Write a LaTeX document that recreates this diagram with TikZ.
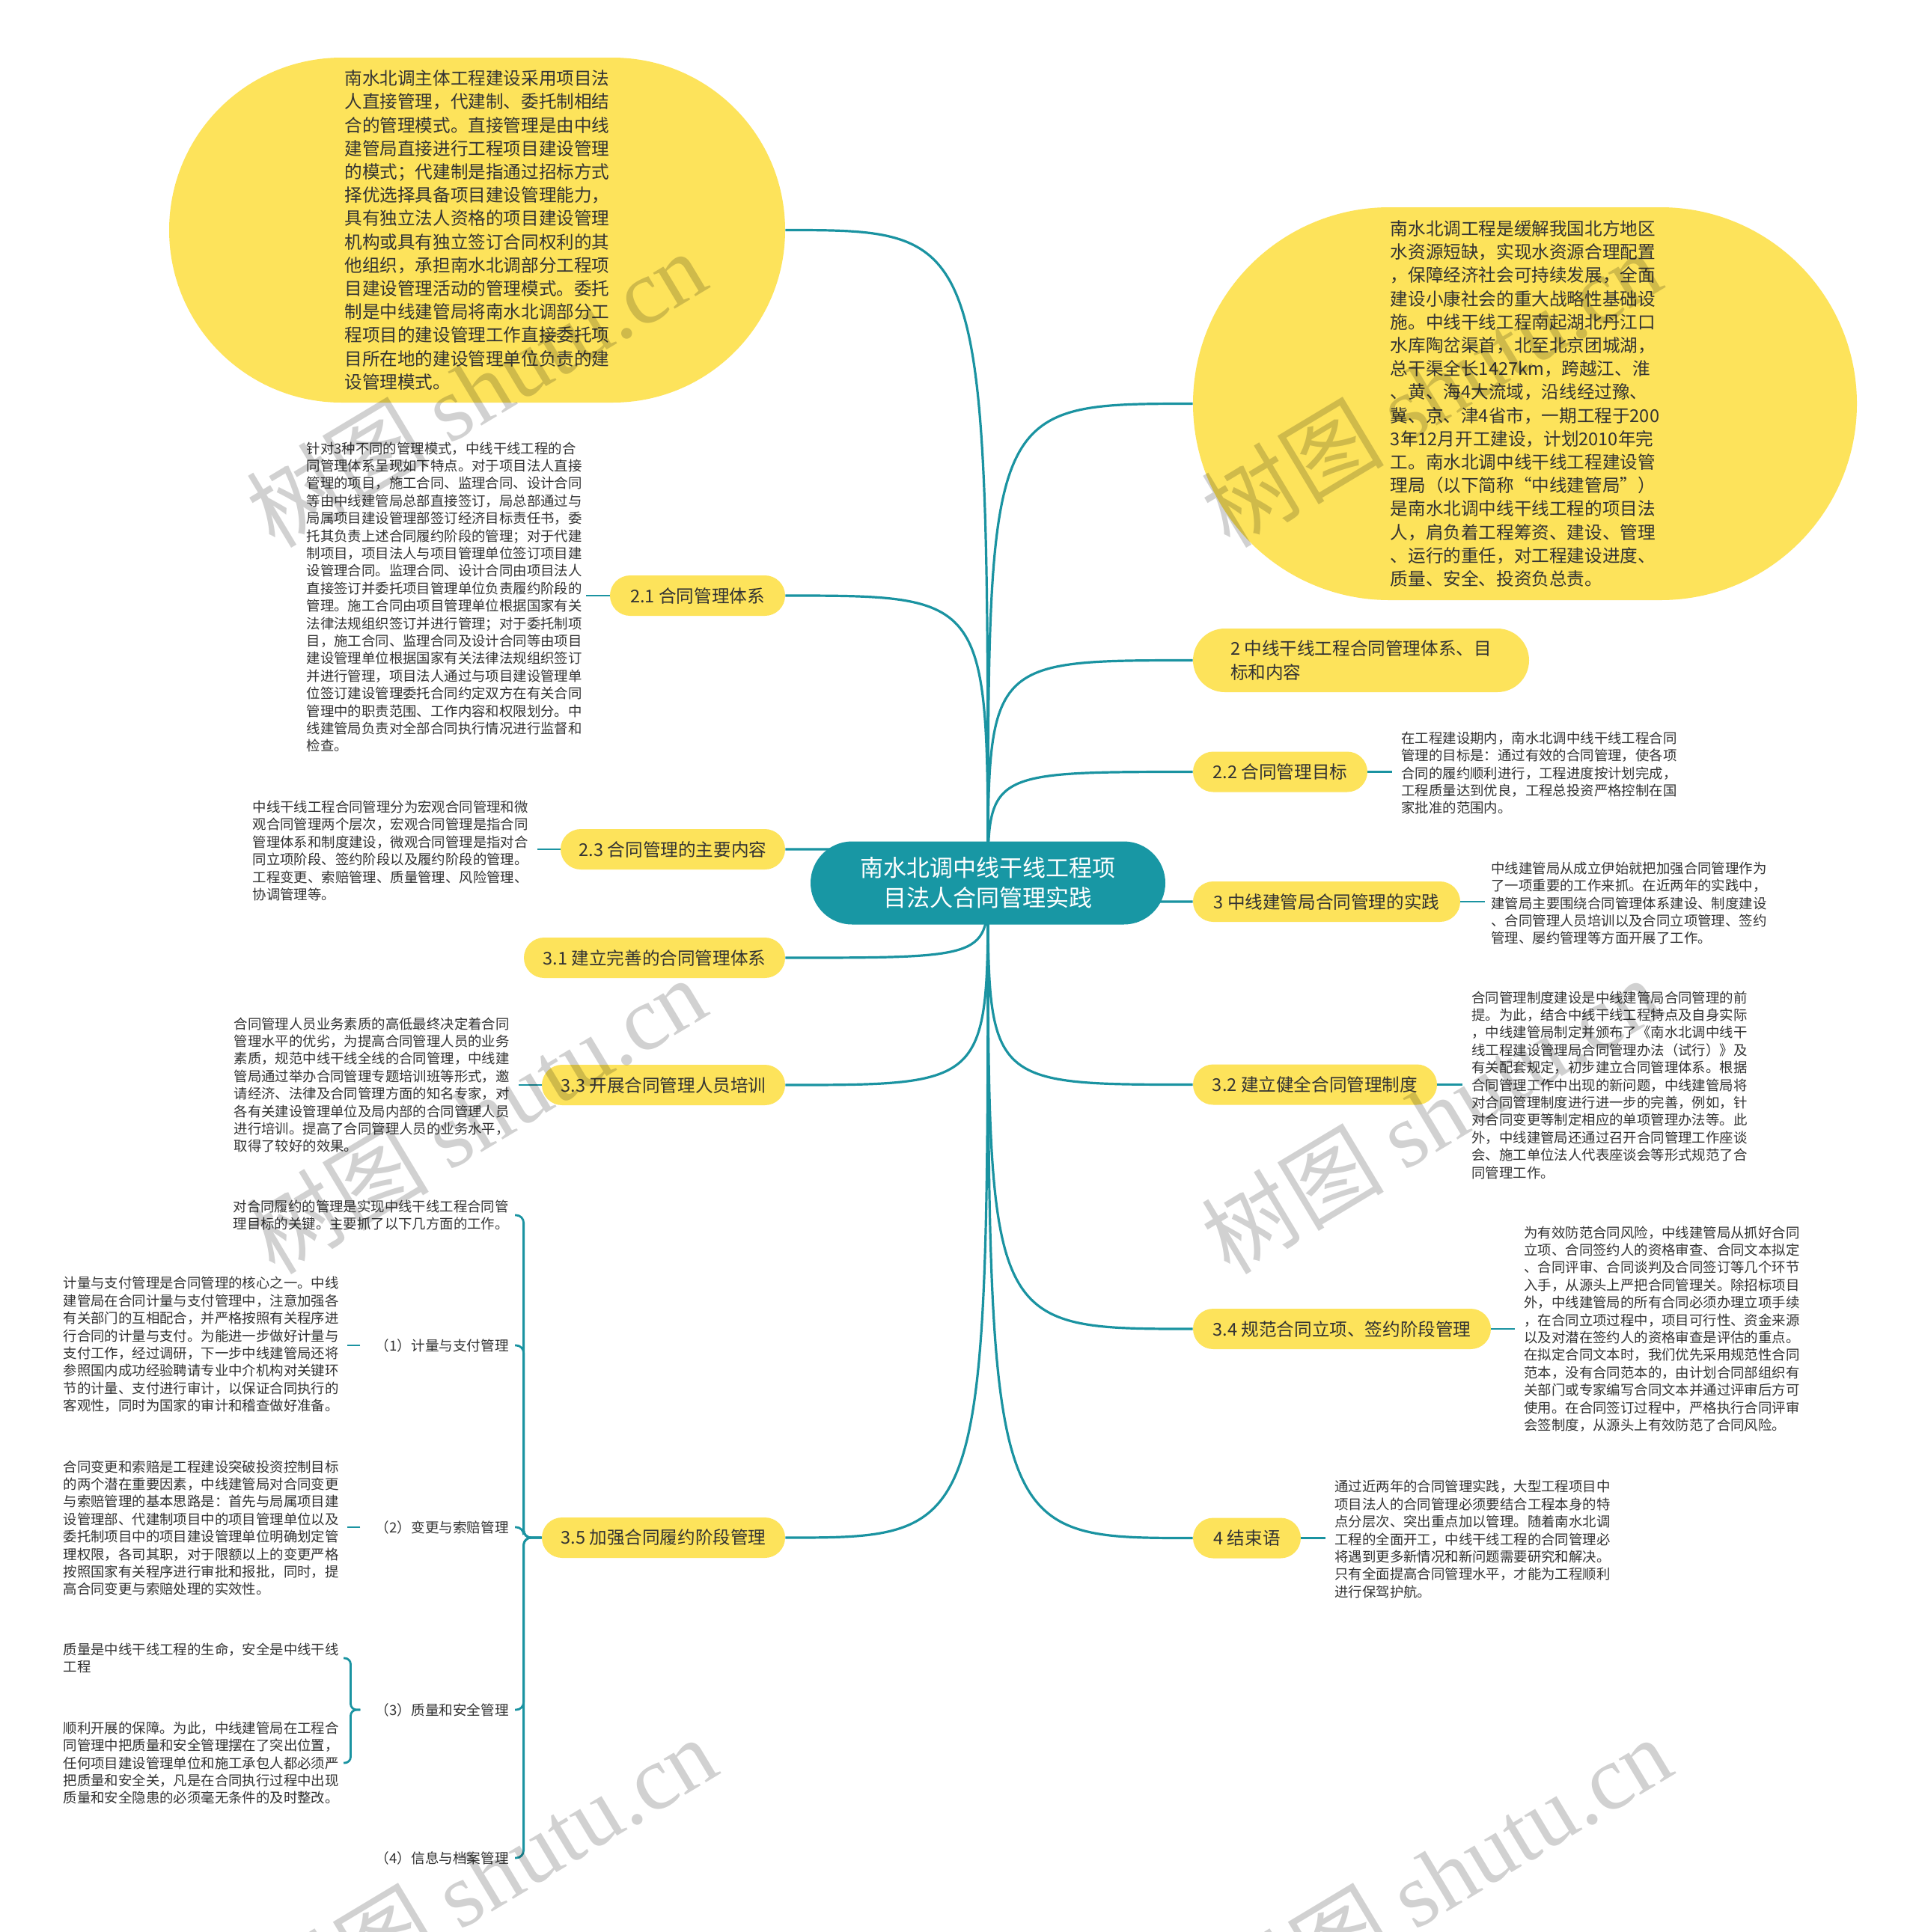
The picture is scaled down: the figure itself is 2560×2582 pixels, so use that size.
\documentclass[tikz,border=0pt]{standalone}
\usepackage{fontspec}
\setmainfont{Noto Sans CJK SC}
\newfontfamily\wmlatin{Liberation Serif}
\usetikzlibrary{shapes.misc,backgrounds}
\definecolor{pillyellow}{HTML}{FDE35B}
\definecolor{teal1}{HTML}{1A93A1}
\definecolor{centerteal}{HTML}{1897A4}
\definecolor{txt}{HTML}{333333}
\begin{document}
\begin{tikzpicture}[x=0.5pt,y=-0.5pt,
  pill/.style={rounded rectangle, fill=pillyellow, text=txt, inner sep=0pt, minimum height=27pt, font=\fontsize{11.8pt}{15.6pt}\selectfont},
  blob/.style={rounded rectangle, fill=pillyellow, text=txt, inner sep=0pt, align=left, font=\fontsize{11.8pt}{15.6pt}\selectfont},
  note/.style={text=txt, inner sep=0pt, align=left, font=\fontsize{9.2pt}{11.7pt}\selectfont},
  lab/.style={text=txt, inner sep=0pt, font=\fontsize{9.3pt}{11.7pt}\selectfont},
  branch/.style={draw=teal1, line width=1.6pt},
  twig/.style={draw=teal1, line width=1.4pt},
  wm/.style={text=black, text opacity=0.18, font=\fontsize{61pt}{61pt}\selectfont, rotate=31}
]
\begin{scope}[on background layer]
\fill[white] (0,0) rectangle (2560,2582);
\end{scope}
\path[use as bounding box] (0,0) rectangle (2560,2582);

% centre
\node[rounded rectangle, fill=centerteal, text=white, minimum width=237pt, minimum height=55.5pt, inner sep=0pt, align=center, font=\fontsize{15.5pt}{19.8pt}\selectfont] (ctr) at (1320,1180) {南水北调中线干线工程项\\目法人合同管理实践};

% big blobs
\node[blob, minimum width=411.5pt, minimum height=230.5pt] (TL) at (637.5,307.5) {南水北调主体工程建设采用项目法\\人直接管理，代建制、委托制相结\\合的管理模式。直接管理是由中线\\建管局直接进行工程项目建设管理\\的模式；代建制是指通过招标方式\\择优选择具备项目建设管理能力，\\具有独立法人资格的项目建设管理\\机构或具有独立签订合同权利的其\\他组织，承担南水北调部分工程项\\目建设管理活动的管理模式。委托\\制是中线建管局将南水北调部分工\\程项目的建设管理工作直接委托项\\目所在地的建设管理单位负责的建\\设管理模式。};
\node[blob, minimum width=443.5pt, minimum height=262.5pt] (TR) at (2037.5,539.5) {南水北调工程是缓解我国北方地区\\水资源短缺，实现水资源合理配置\\，保障经济社会可持续发展，全面\\建设小康社会的重大战略性基础设\\施。中线干线工程南起湖北丹江口\\水库陶岔渠首，北至北京团城湖，\\总干渠全长1427km，跨越江、淮\\、黄、海4大流域，沿线经过豫、\\冀、京、津4省市，一期工程于200\\3年12月开工建设，计划2010年完\\工。南水北调中线干线工程建设管\\理局（以下简称“中线建管局”）\\是南水北调中线干线工程的项目法\\人，肩负着工程筹资、建设、管理\\、运行的重任，对工程建设进度、\\质量、安全、投资负总责。};

% left pills
\node[pill, minimum width=117pt] (n21) at (932,796) {2.1 合同管理体系};
\node[pill, minimum width=150pt] (n23) at (899,1135) {2.3 合同管理的主要内容};
\node[pill, minimum width=174.5pt] (n31) at (874.5,1280) {3.1 建立完善的合同管理体系};
\node[pill, minimum width=162.5pt] (n33) at (886.5,1450) {3.3 开展合同管理人员培训};
\node[pill, minimum width=162.5pt] (n35) at (886.5,2055) {3.5 加强合同履约阶段管理};
% right pills
\node[pill, align=left, minimum width=224.5pt, minimum height=42.5pt] (n2) at (1818.5,882.5) {2 中线干线工程合同管理体系、目\\标和内容};
\node[pill, minimum width=116.5pt] (n22) at (1710.5,1031.5) {2.2 合同管理目标};
\node[pill, minimum width=178.5pt] (n3) at (1772.5,1205) {3 中线建管局合同管理的实践};
\node[pill, minimum width=163pt] (n32) at (1757,1449.5) {3.2 建立健全合同管理制度};
\node[pill, minimum width=199pt] (n34) at (1793,1776) {3.4 规范合同立项、签约阶段管理};
\node[pill, minimum width=72pt] (n4) at (1666,2055.5) {4 结束语};

% notes left
\node[note, anchor=east] (t21) at (778,798) {针对3种不同的管理模式，中线干线工程的合\\同管理体系呈现如下特点。对于项目法人直接\\管理的项目，施工合同、监理合同、设计合同\\等由中线建管局总部直接签订，局总部通过与\\局属项目建设管理部签订经济目标责任书，委\\托其负责上述合同履约阶段的管理；对于代建\\制项目，项目法人与项目管理单位签订项目建\\设管理合同。监理合同、设计合同由项目法人\\直接签订并委托项目管理单位负责履约阶段的\\管理。施工合同由项目管理单位根据国家有关\\法律法规组织签订并进行管理；对于委托制项\\目，施工合同、监理合同及设计合同等由项目\\建设管理单位根据国家有关法律法规组织签订\\并进行管理，项目法人通过与项目建设管理单\\位签订建设管理委托合同约定双方在有关合同\\管理中的职责范围、工作内容和权限划分。中\\线建管局负责对全部合同执行情况进行监督和\\检查。};
\node[note, anchor=east] (t23) at (706,1137) {中线干线工程合同管理分为宏观合同管理和微\\观合同管理两个层次，宏观合同管理是指合同\\管理体系和制度建设，微观合同管理是指对合\\同立项阶段、签约阶段以及履约阶段的管理。\\工程变更、索赔管理、质量管理、风险管理、\\协调管理等。};
\node[note, anchor=east] (t33) at (681,1450) {合同管理人员业务素质的高低最终决定着合同\\管理水平的优劣，为提高合同管理人员的业务\\素质，规范中线干线全线的合同管理，中线建\\管局通过举办合同管理专题培训班等形式，邀\\请经济、法律及合同管理方面的知名专家，对\\各有关建设管理单位及局内部的合同管理人员\\进行培训。提高了合同管理人员的业务水平，\\取得了较好的效果。};
\node[note, anchor=east] (intro) at (680,1624) {对合同履约的管理是实现中线干线工程合同管\\理目标的关键。主要抓了以下几方面的工作。};
\node[lab, anchor=east] (l1) at (680,1798) {（1）计量与支付管理};
\node[lab, anchor=east] (l2) at (680,2041) {（2）变更与索赔管理};
\node[lab, anchor=east] (l3) at (680,2285) {（3）质量和安全管理};
\node[lab, anchor=east] (l4) at (680,2483) {（4）信息与档案管理};
\node[note, anchor=east] (t1) at (453,1797) {计量与支付管理是合同管理的核心之一。中线\\建管局在合同计量与支付管理中，注意加强各\\有关部门的互相配合，并严格按照有关程序进\\行合同的计量与支付。为能进一步做好计量与\\支付工作，经过调研，下一步中线建管局还将\\参照国内成功经验聘请专业中介机构对关键环\\节的计量、支付进行审计，以保证合同执行的\\客观性，同时为国家的审计和稽查做好准备。};
\node[note, anchor=east] (t2) at (453,2042) {合同变更和索赔是工程建设突破投资控制目标\\的两个潜在重要因素，中线建管局对合同变更\\与索赔管理的基本思路是：首先与局属项目建\\设管理部、代建制项目中的项目管理单位以及\\委托制项目中的项目建设管理单位明确划定管\\理权限，各司其职，对于限额以上的变更严格\\按照国家有关程序进行审批和报批，同时，提\\高合同变更与索赔处理的实效性。};
\node[note, anchor=east] (t3a) at (453,2216) {质量是中线干线工程的生命，安全是中线干线\\工程};
\node[note, anchor=east] (t3b) at (453,2356) {顺利开展的保障。为此，中线建管局在工程合\\同管理中把质量和安全管理摆在了突出位置，\\任何项目建设管理单位和施工承包人都必须严\\把质量和安全关，凡是在合同执行过程中出现\\质量和安全隐患的必须毫无条件的及时整改。};

% notes right
\node[note, anchor=west] (t22) at (1872,1033) {在工程建设期内，南水北调中线干线工程合同\\管理的目标是：通过有效的合同管理，使各项\\合同的履约顺利进行，工程进度按计划完成，\\工程质量达到优良，工程总投资严格控制在国\\家批准的范围内。};
\node[note, anchor=west] (t3) at (1992,1207) {中线建管局从成立伊始就把加强合同管理作为\\了一项重要的工作来抓。在近两年的实践中，\\建管局主要围绕合同管理体系建设、制度建设\\、合同管理人员培训以及合同立项管理、签约\\管理、屡约管理等方面开展了工作。};
\node[note, anchor=west] (t32) at (1966,1450) {合同管理制度建设是中线建管局合同管理的前\\提。为此，结合中线干线工程特点及自身实际\\，中线建管局制定并颁布了《南水北调中线干\\线工程建设管理局合同管理办法（试行）》及\\有关配套规定，初步建立合同管理体系。根据\\合同管理工作中出现的新问题，中线建管局将\\对合同管理制度进行进一步的完善，例如，针\\对合同变更等制定相应的单项管理办法等。此\\外，中线建管局还通过召开合同管理工作座谈\\会、施工单位法人代表座谈会等形式规范了合\\同管理工作。};
\node[note, anchor=west] (t34) at (2036,1776) {为有效防范合同风险，中线建管局从抓好合同\\立项、合同签约人的资格审查、合同文本拟定\\、合同评审、合同谈判及合同签订等几个环节\\入手，从源头上严把合同管理关。除招标项目\\外，中线建管局的所有合同必须办理立项手续\\，在合同立项过程中，项目可行性、资金来源\\以及对潜在签约人的资格审查是评估的重点。\\在拟定合同文本时，我们优先采用规范性合同\\范本，没有合同范本的，由计划合同部组织有\\关部门或专家编写合同文本并通过评审后方可\\使用。在合同签订过程中，严格执行合同评审\\会签制度，从源头上有效防范了合同风险。};
\node[note, anchor=west] (t4) at (1783,2057) {通过近两年的合同管理实践，大型工程项目中\\项目法人的合同管理必须要结合工程本身的特\\点分层次、突出重点加以管理。随着南水北调\\工程的全面开工，中线干线工程的合同管理必\\将遇到更多新情况和新问题需要研究和解决。\\只有全面提高合同管理水平，才能为工程顺利\\进行保驾护航。};

% connectors
\begin{scope}[on background layer]
\foreach \n in {TL,n21,n23,n31,n33,n35,TR,n2,n22,n3,n32,n34,n4}{
  \draw[branch] (ctr.center) .. controls (ctr.center |- \n) and (ctr.center |- \n) .. (\n);
}
\end{scope}
\draw[twig, shorten >=2.5pt] (n21.west) -- (n21.west -| t21.east);
\draw[twig, shorten >=6pt] (n23.west) -- (n23.west -| t23.east);
\draw[twig, shorten >=6pt] (n33.west) -- (n33.west -| t33.east);
\draw[twig, shorten >=6pt] (n22.east) -- (n22.east -| t22.west);
\draw[twig, shorten >=4pt] (n3.east) -- (n3.east -| t3.west);
\draw[twig, shorten >=6pt] (n32.east) -- (n32.east -| t32.west);
\draw[twig, shorten >=6pt] (n34.east) -- (n34.east -| t34.west);
\draw[twig, shorten >=6pt] (n4.east) -- (n4.east -| t4.west);
\foreach \c in {intro,l1,l2,l3,l4}{
  \draw[twig, rounded corners=5pt] (n35.west) -- ++(-24,0) |- ([xshift=4pt]\c.east);
}
\draw[twig, shorten <=10pt, shorten >=5.5pt] (l1.west) -- (l1.west -| t1.east);
\draw[twig, shorten <=10pt, shorten >=5.5pt] (l2.west) -- (l2.west -| t2.east);
\draw[twig, rounded corners=4pt, shorten <=10pt] (l3.west) -- ++(-33,0) |- ([xshift=3pt]t3a.east);
\draw[twig, rounded corners=4pt, shorten <=10pt] (l3.west) -- ++(-33,0) |- ([xshift=3pt]t3b.east);

% watermarks
\foreach \p [count=\i] in {(636,519),(636,1490),(650,2505),(1912,519),(1912,1490),(1926,2505)}{
  \node[wm] (wm\i) at \p {树图 {\wmlatin shutu.cn}};
}
\end{tikzpicture}
\end{document}
